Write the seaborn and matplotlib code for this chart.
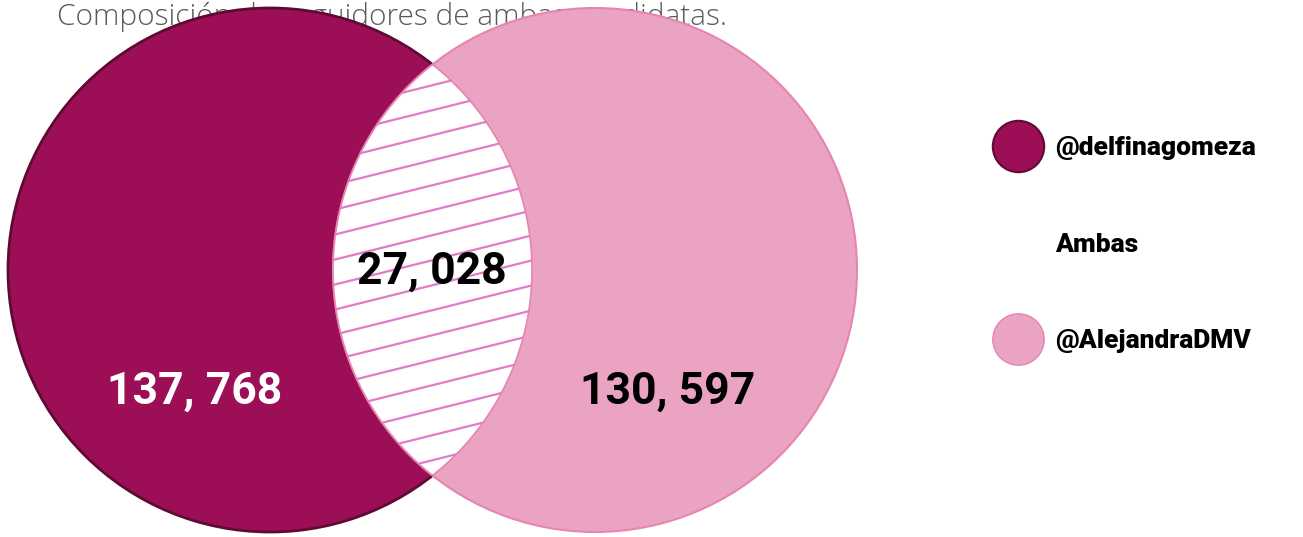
import matplotlib.pyplot as plt
import numpy as np
import seaborn as sns
from matplotlib.lines import Line2D
from matplotlib.patches import Circle, Polygon

# Data
accounts = ["@delfinagomeza", "Ambas", "@AlejandraDMV"]
followers = [137768, 27028, 130597]
title = "Composición de seguidores de ambas candidatas."

# Style
dark = "#9c0e56"
dark_edge = "#5e0a32"
light = "#eba3c3"
light_edge = "#e585b0"
hatch_col = "#e27bc9"

sns.set_theme(style="white")
plt.rcParams["font.family"] = ["Roboto", "DejaVu Sans"]


def fmt(v):
    return f"{v:,}".replace(",", ", ")


fig = plt.figure(figsize=(13.03, 5.37), dpi=100)
ax = fig.add_axes([0, 0, 1, 1])
ax.set_xlim(0, 1303)
ax.set_ylim(537, 0)
ax.set_aspect("equal")
ax.axis("off")

# circle geometry in pixel space
r = 262
c_left = np.array([270.0, 270.0])
c_right = np.array([595.0, 270.0])

ax.text(57, 17, title, fontsize=21.5, color="#5a5a5a", family=["Open Sans", "DejaVu Sans"],
        fontweight="light", va="center", ha="left", zorder=0)

ax.add_patch(Circle(c_left, r, facecolor=dark, edgecolor=dark_edge, lw=2, zorder=1))
ax.add_patch(Circle(c_right, r, facecolor=light, edgecolor=light_edge, lw=1.5, zorder=2))

# lens (intersection) polygon
d = c_right[0] - c_left[0]
theta = np.arccos(d / 2 / r)
t1 = np.linspace(-theta, theta, 200)
arc_left = np.column_stack([c_left[0] + r * np.cos(t1), c_left[1] + r * np.sin(t1)])
t2 = np.linspace(np.pi - theta, np.pi + theta, 200)
arc_right = np.column_stack([c_right[0] + r * np.cos(t2), c_right[1] + r * np.sin(t2)])
lens = Polygon(np.vstack([arc_left, arc_right]), closed=True, facecolor="white",
               edgecolor=light_edge, lw=1.2, zorder=3)
ax.add_patch(lens)

# slanted hatch lines clipped to the lens
slope = -np.tan(np.radians(14))
xs = np.array([c_right[0] - r, c_left[0] + r])
for y0 in np.arange(-40, 620, 25):
    ln, = ax.plot(xs, y0 + slope * (xs - xs[0]), color=hatch_col, lw=1.6, zorder=4)
    ln.set_clip_path(lens)

# numbers
ax.text(195, 392, fmt(followers[0]), color="white", fontsize=32, fontweight="bold",
        ha="center", va="center", zorder=5)
ax.text(432, 272, fmt(followers[1]), color="black", fontsize=32, fontweight="bold",
        ha="center", va="center", zorder=5)
ax.text(668, 392, fmt(followers[2]), color="black", fontsize=32, fontweight="bold",
        ha="center", va="center", zorder=5)

# legend
handles = [
    Line2D([], [], ls="none", marker="o", ms=37, mfc=dark, mec=dark_edge, mew=1.5),
    Line2D([], [], ls="none", marker=""),
    Line2D([], [], ls="none", marker="o", ms=37, mfc=light, mec=light_edge, mew=1),
]
leg = ax.legend(handles, accounts, loc="center left", bbox_to_anchor=(0.747, 0.544),
                frameon=False, labelspacing=2.75, handlelength=1.6, handletextpad=0.6,
                prop={"family": ["Roboto", "DejaVu Sans"], "weight": "black", "size": 19})
for t in leg.get_texts():
    t.set_color("black")

fig.savefig("out.png", dpi=100, facecolor="white")
